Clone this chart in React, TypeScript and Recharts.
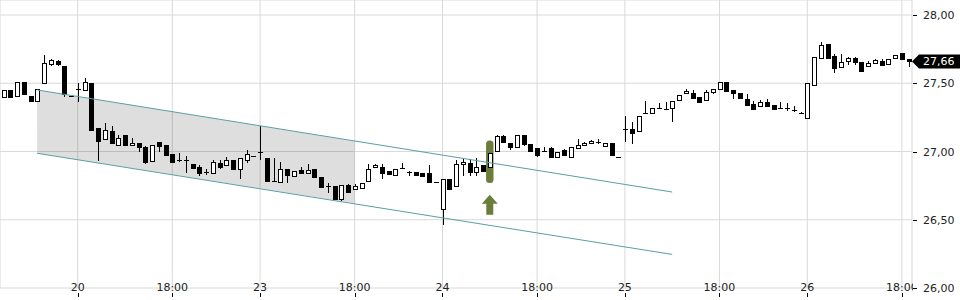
import React from 'react';
import {
  ComposedChart, Bar, Line, Area, XAxis, YAxis, CartesianGrid,
  ReferenceArea, ReferenceDot, ReferenceLine,
} from 'recharts';

// candles, one per slot (index 0 = first visible candle)
const opens = [
  27.40, 27.45, 27.41, 27.51, 27.41, 27.37, 27.50, 27.64, 27.66, 27.63,
  27.408, 27.46, 27.45, 27.50, 27.17, 27.09, 27.15, 27.05, 27.12, 27.045,
  27.06, 27.035, 26.93, 27.07, 27.05, 26.98, 26.935, 26.935, 26.91, 26.885,
  26.852, 26.845, 26.915, 26.90, 26.935, 26.87, 26.935, 26.968, 27.00, 26.95,
  26.785, 26.775, 26.87, 26.82, 26.865, 26.84, 26.87, 26.815, 26.75, 26.745,
  26.65, 26.755, 26.728, 26.73, 26.785, 26.885, 26.885, 26.855, 26.825, 26.877,
  26.85, 26.853, 26.84, 26.84, 26.773, 26.58, 26.795, 26.75, 26.905, 26.918,
  26.852, 26.90, 26.885, 27.005, 27.11, 27.065, 27.035, 27.12, 27.053, 27.028,
  27.004, 27.023, 26.958, 27.011, 26.962, 27.023, 27.045, 27.06, 27.071, 27.04,
  27.064, 26.958, 27.165, 27.165, 27.15, 27.285, 27.28, 27.318, 27.311, 27.317,
  27.38, 27.429, 27.427, 27.40, 27.377, 27.434, 27.456, 27.511, 27.451, 27.427,
  27.383, 27.348, 27.333, 27.36, 27.341, 27.32, 27.316, 27.301, 27.285, 27.243,
  27.487, 27.683, 27.788, 27.702, 27.617, 27.665, 27.688, 27.654, 27.629, 27.646,
  27.665, 27.641, 27.683, 27.719, 27.675,
];
const highs = [
  27.45, 27.45, 27.51, 27.51, 27.41, 27.46, 27.71, 27.68, 27.67, 27.63,
  27.41, 27.50, 27.54, 27.50, 27.17, 27.21, 27.19, 27.12, 27.12, 27.10,
  27.06, 27.04, 27.05, 27.07, 27.05, 26.98, 26.99, 26.97, 26.91, 26.90,
  26.87, 26.94, 26.94, 26.96, 26.935, 26.95, 27.01, 26.97, 27.19, 26.95,
  26.95, 26.92, 26.87, 26.86, 26.885, 26.905, 26.87, 26.815, 26.77, 26.745,
  26.755, 26.765, 26.76, 26.77, 26.905, 26.91, 26.905, 26.855, 26.875, 26.915,
  26.857, 26.853, 26.845, 26.90, 26.775, 26.80, 26.795, 26.94, 26.945, 26.945,
  26.95, 26.90, 26.99, 27.12, 27.12, 27.065, 27.12, 27.12, 27.053, 27.028,
  27.035, 27.035, 26.999, 27.015, 27.033, 27.09, 27.072, 27.085, 27.089, 27.064,
  27.064, 26.959, 27.26, 27.214, 27.262, 27.37, 27.321, 27.353, 27.365, 27.372,
  27.414, 27.455, 27.451, 27.40, 27.451, 27.458, 27.511, 27.511, 27.451, 27.43,
  27.421, 27.37, 27.38, 27.387, 27.341, 27.365, 27.353, 27.334, 27.286, 27.504,
  27.69, 27.80, 27.788, 27.712, 27.712, 27.69, 27.69, 27.654, 27.66, 27.675,
  27.675, 27.68, 27.707, 27.719, 27.675,
];
const lows = [
  27.40, 27.40, 27.41, 27.42, 27.36, 27.37, 27.50, 27.63, 27.63, 27.40,
  27.40, 27.36, 27.44, 27.15, 26.93, 27.09, 27.06, 27.05, 27.05, 27.045,
  27.00, 26.91, 26.93, 27.00, 26.975, 26.92, 26.925, 26.845, 26.87, 26.82,
  26.83, 26.845, 26.87, 26.90, 26.87, 26.80, 26.915, 26.965, 26.94, 26.785,
  26.775, 26.775, 26.77, 26.82, 26.84, 26.84, 26.815, 26.74, 26.695, 26.655,
  26.64, 26.705, 26.715, 26.73, 26.785, 26.88, 26.80, 26.835, 26.825, 26.875,
  26.82, 26.828, 26.82, 26.775, 26.77, 26.46, 26.725, 26.75, 26.82, 26.82,
  26.82, 26.86, 26.885, 27.005, 27.065, 27.01, 27.035, 27.04, 27.005, 26.962,
  26.995, 26.95, 26.958, 26.97, 26.962, 27.023, 27.04, 27.055, 27.055, 27.03,
  26.975, 26.956, 27.072, 27.055, 27.15, 27.273, 27.28, 27.315, 27.309, 27.218,
  27.38, 27.42, 27.39, 27.365, 27.377, 27.42, 27.456, 27.443, 27.383, 27.385,
  27.341, 27.309, 27.333, 27.333, 27.309, 27.31, 27.30, 27.288, 27.283, 27.243,
  27.487, 27.683, 27.683, 27.577, 27.617, 27.637, 27.637, 27.592, 27.629, 27.64,
  27.634, 27.635, 27.683, 27.678, 27.621,
];
const closes = [
  27.45, 27.40, 27.51, 27.42, 27.37, 27.46, 27.65, 27.67, 27.64, 27.42,
  27.405, 27.455, 27.51, 27.16, 27.08, 27.16, 27.06, 27.10, 27.05, 27.065,
  27.035, 26.92, 27.05, 27.04, 26.975, 26.92, 26.932, 26.932, 26.88, 26.84,
  26.85, 26.92, 26.885, 26.935, 26.87, 26.95, 26.98, 26.966, 26.995, 26.785,
  26.78, 26.875, 26.825, 26.855, 26.84, 26.865, 26.815, 26.74, 26.745, 26.655,
  26.755, 26.705, 26.745, 26.77, 26.87, 26.90, 26.845, 26.835, 26.875, 26.876,
  26.846, 26.828, 26.823, 26.775, 26.772, 26.80, 26.725, 26.91, 26.925, 26.85,
  26.89, 26.86, 26.99, 27.115, 27.072, 27.035, 27.12, 27.055, 27.005, 26.975,
  26.996, 26.962, 26.999, 26.975, 27.033, 27.048, 27.064, 27.08, 27.069, 27.064,
  26.975, 26.957, 27.16, 27.138, 27.262, 27.282, 27.321, 27.316, 27.31, 27.372,
  27.414, 27.446, 27.39, 27.365, 27.434, 27.458, 27.511, 27.443, 27.427, 27.39,
  27.341, 27.309, 27.36, 27.333, 27.309, 27.317, 27.314, 27.299, 27.284, 27.504,
  27.69, 27.78, 27.683, 27.61, 27.654, 27.683, 27.654, 27.592, 27.646, 27.67,
  27.634, 27.678, 27.707, 27.678, 27.66,
];

const tickIndex = [11, 25, 38, 52, 65, 79, 92, 106, 119, 133];
const tickLabels = ['20', '18:00', '23', '18:00', '24', '18:00', '25', '18:00', '26', '18:00'];
const priceTicks = [26, 26.5, 27, 27.5, 28];

// falling trend channel
const channelIndex = [5, 99];
const channelUpper = [27.451, 26.703];
const channelLower = [26.987, 26.246];
const shadeIndex = [5, 52];
const shadeUpper = [27.451, 27.076];
const shadeLower = [26.987, 26.62];

// breakout signal
const signalIndex = 72;
const signalHigh = 27.08;
const signalLow = 26.77;
const arrowLevel = 26.61;

const FONT = '"DejaVu Sans", sans-serif';
const GREEN = '#6b7d3a';

const data = opens.map((o, i) => {
  const row: any = { i, o, h: highs[i], l: lows[i], c: closes[i], range: [lows[i], highs[i]] };
  const ci = channelIndex.indexOf(i);
  if (ci >= 0) {
    row.upper = channelUpper[ci];
    row.lower = channelLower[ci];
  }
  const si = shadeIndex.indexOf(i);
  if (si >= 0) row.shade = [shadeLower[si], shadeUpper[si]];
  return row;
});

const Candle = (props: any) => {
  const { x, y, width, height, payload } = props;
  if (x == null || !payload) return null;
  const { o, h, l, c } = payload;
  const k = height / (h - l);
  const py = (v: number) => y + (h - v) * k;
  const cx = Math.round(x + width / 2);
  const top = Math.round(py(Math.max(o, c)));
  const bot = Math.round(py(Math.min(o, c)));
  const bh = bot - top;
  return (
    <g>
      <line x1={cx + 0.5} x2={cx + 0.5} y1={Math.round(y)} y2={Math.round(y + height)} stroke="#000" />
      {bh < 2 ? (
        <line x1={cx - 2} x2={cx + 3} y1={top + 0.5} y2={top + 0.5} stroke="#000" />
      ) : (
        <rect x={cx - 1.5} y={top + 0.5} width={4} height={bh} fill={c >= o ? '#fff' : '#000'} stroke="#000" />
      )}
    </g>
  );
};

const XTick = (props: any) => {
  const { x, y, payload } = props;
  const k = tickIndex.indexOf(payload.value);
  const px = Math.round(x) + 0.5;
  return (
    <g>
      <text x={x} y={y + 3} textAnchor="middle" fontSize={11} fontFamily={FONT} fill="#222">
        {tickLabels[k]}
      </text>
      <line x1={px} x2={px} y1={y + 5} y2={y + 9} stroke="#000" />
    </g>
  );
};

const YTick = (props: any) => {
  const { x, y, payload } = props;
  const py = Math.round(y) + 0.5;
  return (
    <g>
      <rect x={x + 1} y={y - 7} width={47} height={14} fill="#fff" />
      <line x1={x + 1} x2={x + 5} y1={py} y2={py} stroke="#000" />
      <text x={x + 11} y={y + 4} fontSize={11} fontFamily={FONT} fill="#222">
        {payload.value.toFixed(2).replace('.', ',')}
      </text>
    </g>
  );
};

const PriceTag = (props: any) => {
  const vb = props.viewBox;
  if (!vb) return null;
  const tx = vb.x + vb.width;
  const ty = vb.y;
  return (
    <g>
      <polygon
        points={`${tx},${ty} ${tx + 7},${ty - 7} ${tx + 48},${ty - 7} ${tx + 48},${ty + 7} ${tx + 7},${ty + 7}`}
        fill="#000"
      />
      <text x={tx + 11} y={ty + 4} fontSize={11} fontFamily={FONT} fill="#fff">
        {closes[closes.length - 1].toFixed(2).replace('.', ',')}
      </text>
    </g>
  );
};

const Highlight = (props: any) => {
  const { x, y, width, height } = props;
  if (x == null) return null;
  return <rect x={x} y={y} width={width} height={height} rx={3.5} ry={3.5} fill={GREEN} />;
};

const Arrow = (props: any) => {
  const { cx, cy } = props;
  if (cx == null) return null;
  const pts = [
    [cx, cy - 10], [cx + 8, cy - 1], [cx + 3.5, cy - 1], [cx + 3.5, cy + 10],
    [cx - 3.5, cy + 10], [cx - 3.5, cy - 1], [cx - 8, cy - 1],
  ].map((p) => p.join(',')).join(' ');
  return <polygon points={pts} fill={GREEN} />;
};

export default function App() {
  return (
    <div style={{ position: 'absolute', left: 0, top: 0, width: 960, height: 300, background: '#fff' }}>
      <ComposedChart width={960} height={300} data={data} margin={{ top: 0, right: 0, bottom: 0, left: 0 }}>
        <CartesianGrid stroke="#d9d9d9" />
        <XAxis
          dataKey="i"
          type="number"
          domain={[-0.5, 134.5]}
          ticks={tickIndex}
          interval={0}
          allowDataOverflow
          height={12}
          axisLine={false}
          tickLine={false}
          tickSize={0}
          tickMargin={0}
          tick={<XTick />}
        />
        <YAxis
          orientation="right"
          type="number"
          domain={[26, 28.11]}
          ticks={priceTicks}
          allowDataOverflow
          width={48}
          axisLine={false}
          tickLine={false}
          tickSize={0}
          tickMargin={0}
          tick={<YTick />}
        />
        <Area
          dataKey="shade"
          type="linear"
          connectNulls
          stroke="none"
          fill="#000"
          fillOpacity={0.13}
          isAnimationActive={false}
        />
        <Line dataKey="upper" type="linear" connectNulls stroke="#5a9ea6" strokeWidth={1} dot={false} activeDot={false} isAnimationActive={false} />
        <Line dataKey="lower" type="linear" connectNulls stroke="#5a9ea6" strokeWidth={1} dot={false} activeDot={false} isAnimationActive={false} />
        <ReferenceArea
          x1={signalIndex - 0.55}
          x2={signalIndex + 0.55}
          y1={signalLow}
          y2={signalHigh}
          shape={(p: any) => <Highlight {...p} />}
        />
        <Bar dataKey="range" barSize={5} shape={(p: any) => <Candle {...p} />} isAnimationActive={false} />
        <ReferenceDot x={signalIndex} y={arrowLevel} r={8} shape={(p: any) => <Arrow {...p} />} />
        <ReferenceLine
          y={closes[closes.length - 1]}
          stroke="none"
          label={{ content: (p: any) => <PriceTag {...p} /> }}
        />
      </ComposedChart>
    </div>
  );
}
